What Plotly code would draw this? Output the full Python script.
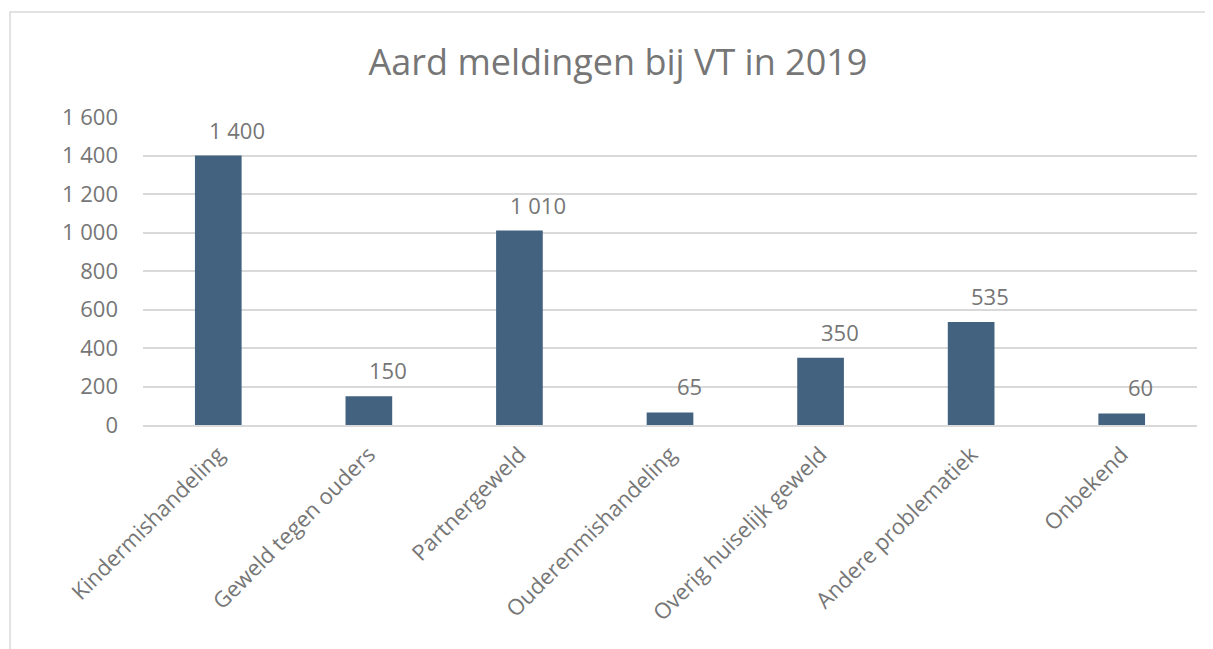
import plotly.graph_objects as go

categories = [
    "Kindermishandeling",
    "Geweld tegen ouders",
    "Partnergeweld",
    "Ouderenmishandeling",
    "Overig huiselijk geweld",
    "Andere problematiek",
    "Onbekend",
]
values = [1400, 150, 1010, 65, 350, 535, 60]
y_ticks = [0, 200, 400, 600, 800, 1000, 1200, 1400, 1600]

GREY = "#767676"
BAR = "#426280"
GRID = "#d9d9d9"
FONT = "Segoe UI, Open Sans, sans-serif"

fig = go.Figure(
    go.Bar(
        x=categories,
        y=values,
        marker=dict(color=BAR, line=dict(width=0)),
        hoverinfo="x+y",
    )
)

# value labels sit a bit above and to the right of each bar, like in Excel
for c, v in zip(categories, values):
    fig.add_annotation(
        x=c, y=v, text=f"{v:,}".replace(",", " "),
        showarrow=False, xshift=19, yshift=26,
        font=dict(size=22, color=GREY, family=FONT),
    )

# chart-area border
fig.add_shape(
    type="rect", xref="paper", yref="paper",
    x0=-0.1262, x1=1.05, y0=-0.9, y1=1.341,
    line=dict(color=GRID, width=1.5), fillcolor="rgba(0,0,0,0)",
)

fig.update_layout(
    width=1213,
    height=649,
    margin=dict(l=135, r=24, t=109, b=232),
    paper_bgcolor="white",
    plot_bgcolor="white",
    separators=". ",
    bargap=0.69,
    showlegend=False,
    font=dict(family=FONT, color=GREY, size=22),
    title=dict(
        text="Aard meldingen bij VT in 2019",
        x=610 / 1213, xanchor="center",
        y=1 - 54 / 649, yanchor="middle",
        font=dict(size=36, color=GREY, family=FONT),
    ),
)

fig.update_xaxes(
    tickangle=-45,
    showline=True, linecolor=GRID, linewidth=2,
    ticks="", ticklabelstandoff=6,
    tickfont=dict(size=22, color=GREY),
    showgrid=False,
)
fig.update_yaxes(
    range=[0, 1600],
    tickvals=y_ticks,
    tickformat=",d",
    showgrid=True, gridcolor=GRID, gridwidth=1.5,
    zeroline=False, showline=False,
    ticks="", ticklabelstandoff=24,
    tickfont=dict(size=22, color=GREY),
)

fig.write_html("out.html")
